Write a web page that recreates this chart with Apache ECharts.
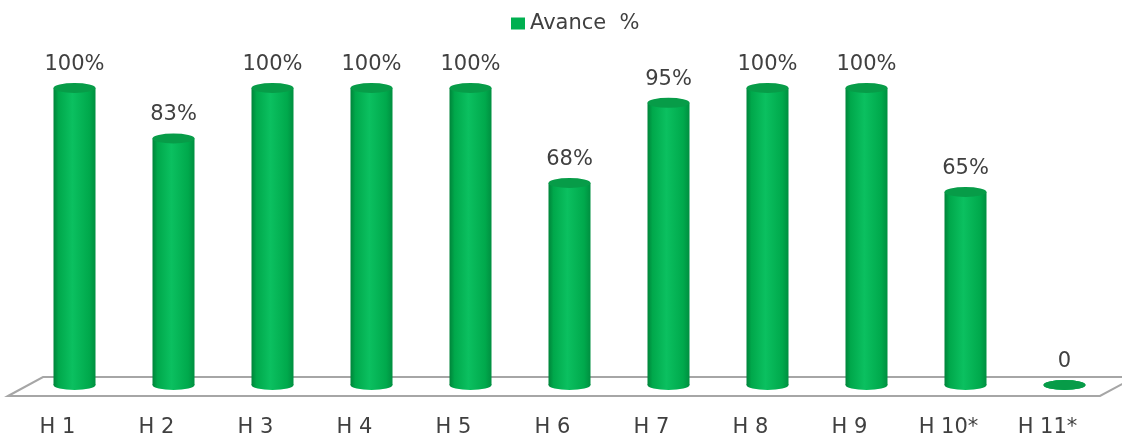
<!DOCTYPE html>
<html>
<head>
<meta charset="utf-8">
<script src="https://cdn.jsdelivr.net/npm/echarts@6/dist/echarts.min.js"></script>
<style>html,body{margin:0;padding:0;background:#fff;}#c{width:1122px;height:435px;}</style>
</head>
<body>
<div id="c"></div>
<script>
const categories = ['H 1','H 2','H 3','H 4','H 5','H 6','H 7','H 8','H 9','H 10*','H 11*'];
const avance = [100, 83, 100, 100, 100, 68, 95, 100, 100, 65, 0];
const seriesName = 'Avance  %';

const GRID = {left: 25, right: 8, top: 88, bottom: 50};
const FONT = 'DejaVu Sans';
const chart = echarts.init(document.getElementById('c'));

const bodyGrad = new echarts.graphic.LinearGradient(0, 0, 1, 0, [
  {offset: 0, color: '#00843a'},
  {offset: 0.12, color: '#00a84b'},
  {offset: 0.45, color: '#0bc060'},
  {offset: 0.85, color: '#00a94c'},
  {offset: 1, color: '#008f40'}
]);

chart.setOption({
  animation: false,
  legend: {
    left: 506, top: 8,
    itemWidth: 14, itemHeight: 12,
    textStyle: {fontFamily: FONT, fontSize: 21, color: '#404040'},
    data: [{name: seriesName, icon: 'rect', itemStyle: {color: '#00b050'}}]
  },
  grid: Object.assign({outerBoundsMode: 'none', containLabel: false}, GRID),
  xAxis: {
    type: 'category', data: categories,
    axisLine: {show: false}, axisTick: {show: false},
    axisLabel: {margin: 32, padding: [0, 34, 0, 0], fontFamily: FONT, fontSize: 21, color: '#404040'}
  },
  yAxis: {type: 'value', min: 0, max: 100, show: false},
  series: [
    {
      name: seriesName, type: 'bar', data: avance, barWidth: 42, z: 2,
      itemStyle: {color: bodyGrad}
    },
    {
      name: 'bottom', type: 'pictorialBar', data: avance, z: 1,
      symbol: 'circle', symbolSize: [42, 10], symbolOffset: [0, '50%'], symbolPosition: 'start',
      itemStyle: {color: bodyGrad}
    },
    {
      name: 'top', type: 'pictorialBar', data: avance, z: 3,
      symbol: 'circle', symbolSize: [42, 10], symbolOffset: [0, '-50%'], symbolPosition: 'end',
      itemStyle: {color: '#079c48'},
      label: {
        show: true, position: 'top', distance: 8,
        fontFamily: FONT, fontSize: 21, color: '#404040',
        formatter: p => p.value === 0 ? '0' : p.value + '%'
      }
    }
  ]
});

// 3D floor plane drawn from the grid geometry
const y0 = chart.convertToPixel({yAxisIndex: 0}, 0);
const W = 1122;
const topY = y0 - 8, botY = y0 + 11, skew = 35;
const gl = GRID.left - 17;
const gr = W - GRID.right - 14;
chart.setOption({
  graphic: [{
    type: 'polygon', z: -10, silent: true,
    shape: {points: [[gl, botY], [gl + skew, topY], [gr + skew, topY], [gr, botY]]},
    style: {fill: '#fff', stroke: '#a6a6a6', lineWidth: 2}
  }]
});
</script>
</body>
</html>
